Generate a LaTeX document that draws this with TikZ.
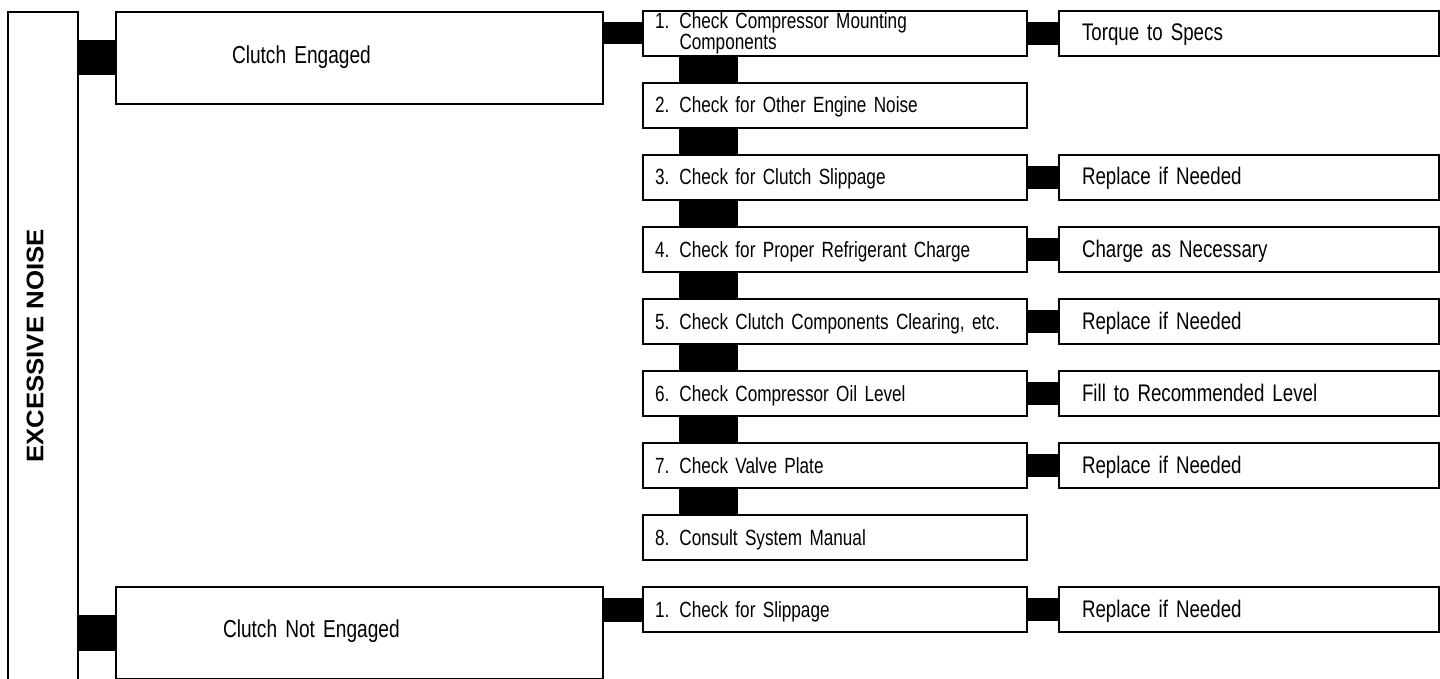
\documentclass[tikz,border=0pt]{standalone}
\usepackage{fontspec}
\setmainfont{Liberation Sans}
\newfontfamily\nfont{Liberation Sans}[FakeStretch=0.78]
\newcommand\numb[1]{\makebox[24.5pt][l]{#1}}
\tikzset{
  box/.style={draw, line width=2.2pt, rectangle, inner sep=0pt, outer sep=0pt, anchor=north west, align=left},
  chk/.style={box, minimum width=384pt, minimum height=45pt, text width=360pt,
    font=\nfont\fontsize{22}{17}\selectfont, text height=17pt, text depth=2pt},
  chktwo/.style={box, minimum width=384pt, minimum height=45pt, text width=360pt,
    font=\nfont\fontsize{22}{17}\selectfont},
  res/.style={box, minimum width=380pt, minimum height=45pt, text width=334pt,
    font=\nfont\fontsize{24}{20}\selectfont, text height=17pt, text depth=2pt},
  clutch/.style={box, minimum width=487pt, minimum height=92pt,
    font=\nfont\fontsize{24.5}{20}\selectfont},
  bar/.style={draw=black, line cap=butt, line width=#1},
  bar/.default=23pt
}
\begin{document}
\begin{tikzpicture}[x=1pt,y=-1pt]
\useasboundingbox (0,0) rectangle (1440,679);
\clip (0,0) rectangle (1440,679);
% left vertical box
\node[box, minimum width=70pt, minimum height=668pt] (en) at (8,12) {};
\node[rotate=90, inner sep=0pt, font=\bfseries\fontsize{24}{28}\selectfont] (entxt) at (35,346) {\scalebox{1.076}[1]{EXCESSIVE NOISE}};
% clutch boxes
\node[clutch, text width=255pt, text height=18pt, text depth=6pt] (ce) at (116,12) {Clutch Engaged};
\node[clutch, text width=273pt, text height=17pt, text depth=9pt] (cne) at (116,587) {Clutch Not Engaged};
% check column
\node[chktwo] (c1) at (643,11) {\numb{1.}Check Compressor Mounting\\\hspace*{24.5pt}Components};
\node[chk] (c2) at (643,83) {\numb{2.}Check for Other Engine Noise};
\node[chk] (c3) at (643,155) {\numb{3.}Check for Clutch Slippage};
\node[chk] (c4) at (643,227) {\numb{4.}Check for Proper Refrigerant Charge};
\node[chk] (c5) at (643,299) {\numb{5.}Check Clutch Components Clearing, etc.};
\node[chk] (c6) at (643,371) {\numb{6.}Check Compressor Oil Level};
\node[chk] (c7) at (643,443) {\numb{7.}Check Valve Plate};
\node[chk] (c8) at (643,515) {\numb{8.}Consult System Manual};
\node[chk] (n1) at (643,587) {\numb{1.}Check for Slippage};
% result column
\node[res] (r1) at (1059,11) {Torque to Specs};
\node[res] (r3) at (1059,155) {Replace if Needed};
\node[res] (r4) at (1059,227) {Charge as Necessary};
\node[res] (r5) at (1059,299) {Replace if Needed};
\node[res] (r6) at (1059,371) {Fill to Recommended Level};
\node[res] (r7) at (1059,443) {Replace if Needed};
\node[res] (rn1) at (1059,587) {Replace if Needed};
% connectors
\coordinate (vx) at (708.5,0);
\draw[bar=35pt] (ce.west -| en.east) -- (ce.west);
\draw[bar=36pt] (cne.west -| en.east) -- (cne.west);
\draw[bar=22pt] (c1.west -| ce.east) -- (c1.west);
\draw[bar=24pt] (n1.west -| cne.east) -- (n1.west);
\draw[bar] (c1.east) -- (r1.west);
\draw[bar] (c3.east) -- (r3.west);
\draw[bar] (c4.east) -- (r4.west);
\draw[bar] (c5.east) -- (r5.west);
\draw[bar] (c6.east) -- (r6.west);
\draw[bar] (c7.east) -- (r7.west);
\draw[bar] (n1.east) -- (rn1.west);
\foreach \a/\b in {c1/c2,c2/c3,c3/c4,c4/c5,c5/c6,c6/c7,c7/c8}
  \draw[bar=59pt] (\a.south -| vx) -- (\b.north -| vx);
\end{tikzpicture}
\end{document}
